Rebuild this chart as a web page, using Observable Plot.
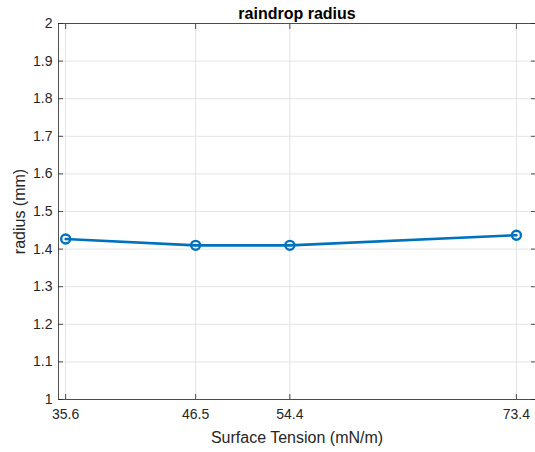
<!DOCTYPE html>
<html>
<head>
<meta charset="utf-8">
<script src="https://cdn.jsdelivr.net/npm/d3@7"></script>
<script src="https://cdn.jsdelivr.net/npm/@observablehq/plot@0.6"></script>
<style>
  html, body { margin: 0; padding: 0; background: #fff; }
  svg { display: block; }
</style>
</head>
<body>
<div id="chart"></div>
<script>
const tension = [35.6, 46.5, 54.4, 73.4];
const radius = [1.427, 1.410, 1.410, 1.437];
const xTicks = [35.6, 46.5, 54.4, 73.4];
const yTicks = [1, 1.1, 1.2, 1.3, 1.4, 1.5, 1.6, 1.7, 1.8, 1.9, 2];
const yTickLabels = ["1", "1.1", "1.2", "1.3", "1.4", "1.5", "1.6", "1.7", "1.8", "1.9", "2"];
const titleText = "raindrop radius";
const xLabel = "Surface Tension (mN/m)";
const yLabel = "radius (mm)";

const data = tension.map((t, i) => ({t, r: radius[i]}));
const ink = "#262626";
const blue = "#0072BD";
const font = "Liberation Sans, Arial, Helvetica, sans-serif";

const chart = Plot.plot({
  width: 535,
  height: 452,
  marginLeft: 58,
  marginRight: 0,
  marginTop: 23,
  marginBottom: 53,
  style: {fontFamily: font, fontSize: "13px", color: ink, background: "#fff", overflow: "visible"},
  x: {domain: [35, 75], label: null},
  y: {domain: [1, 2], label: null},
  marks: [
    Plot.gridX(xTicks, {stroke: "#e3e3e3", strokeOpacity: 1, strokeWidth: 1}),
    Plot.gridY(yTicks, {stroke: "#e3e3e3", strokeOpacity: 1, strokeWidth: 1}),
    Plot.frame({stroke: ink, strokeOpacity: 0.8, strokeWidth: 1}),
    Plot.axisX(xTicks, {anchor: "bottom", tickSize: -5, tickPadding: 15, tickFormat: d => String(d), fontSize: 14, fill: ink, stroke: ink, strokeOpacity: 0.8, label: null}),
    Plot.axisX(xTicks, {anchor: "top", tickSize: -5, text: null, stroke: ink, strokeOpacity: 0.8, label: null}),
    Plot.axisY(yTicks, {anchor: "left", tickSize: -5, tickPadding: 11, tickFormat: (d, i) => yTickLabels[i], fontSize: 14, fill: ink, stroke: ink, strokeOpacity: 0.8, label: null}),
    Plot.axisY(yTicks, {anchor: "right", tickSize: -5, text: null, stroke: ink, strokeOpacity: 0.8, label: null}),
    Plot.line(data, {x: "t", y: "r", stroke: blue, strokeWidth: 2.6}),
    Plot.dot(data, {x: "t", y: "r", r: 4.5, stroke: blue, strokeWidth: 2.4, fill: "none"}),
    Plot.text([titleText], {frameAnchor: "top", lineAnchor: "middle", dy: -10, text: d => d, fontWeight: "bold", fontSize: 16, fill: "#000"}),
    Plot.text([xLabel], {frameAnchor: "bottom", lineAnchor: "middle", dy: 38, text: d => d, fontSize: 16, fill: ink}),
    Plot.text([yLabel], {frameAnchor: "left", textAnchor: "middle", lineAnchor: "middle", dx: -39, rotate: -90, text: d => d, fontSize: 16, fill: ink})
  ]
});
document.getElementById("chart").appendChild(chart);
</script>
</body>
</html>
